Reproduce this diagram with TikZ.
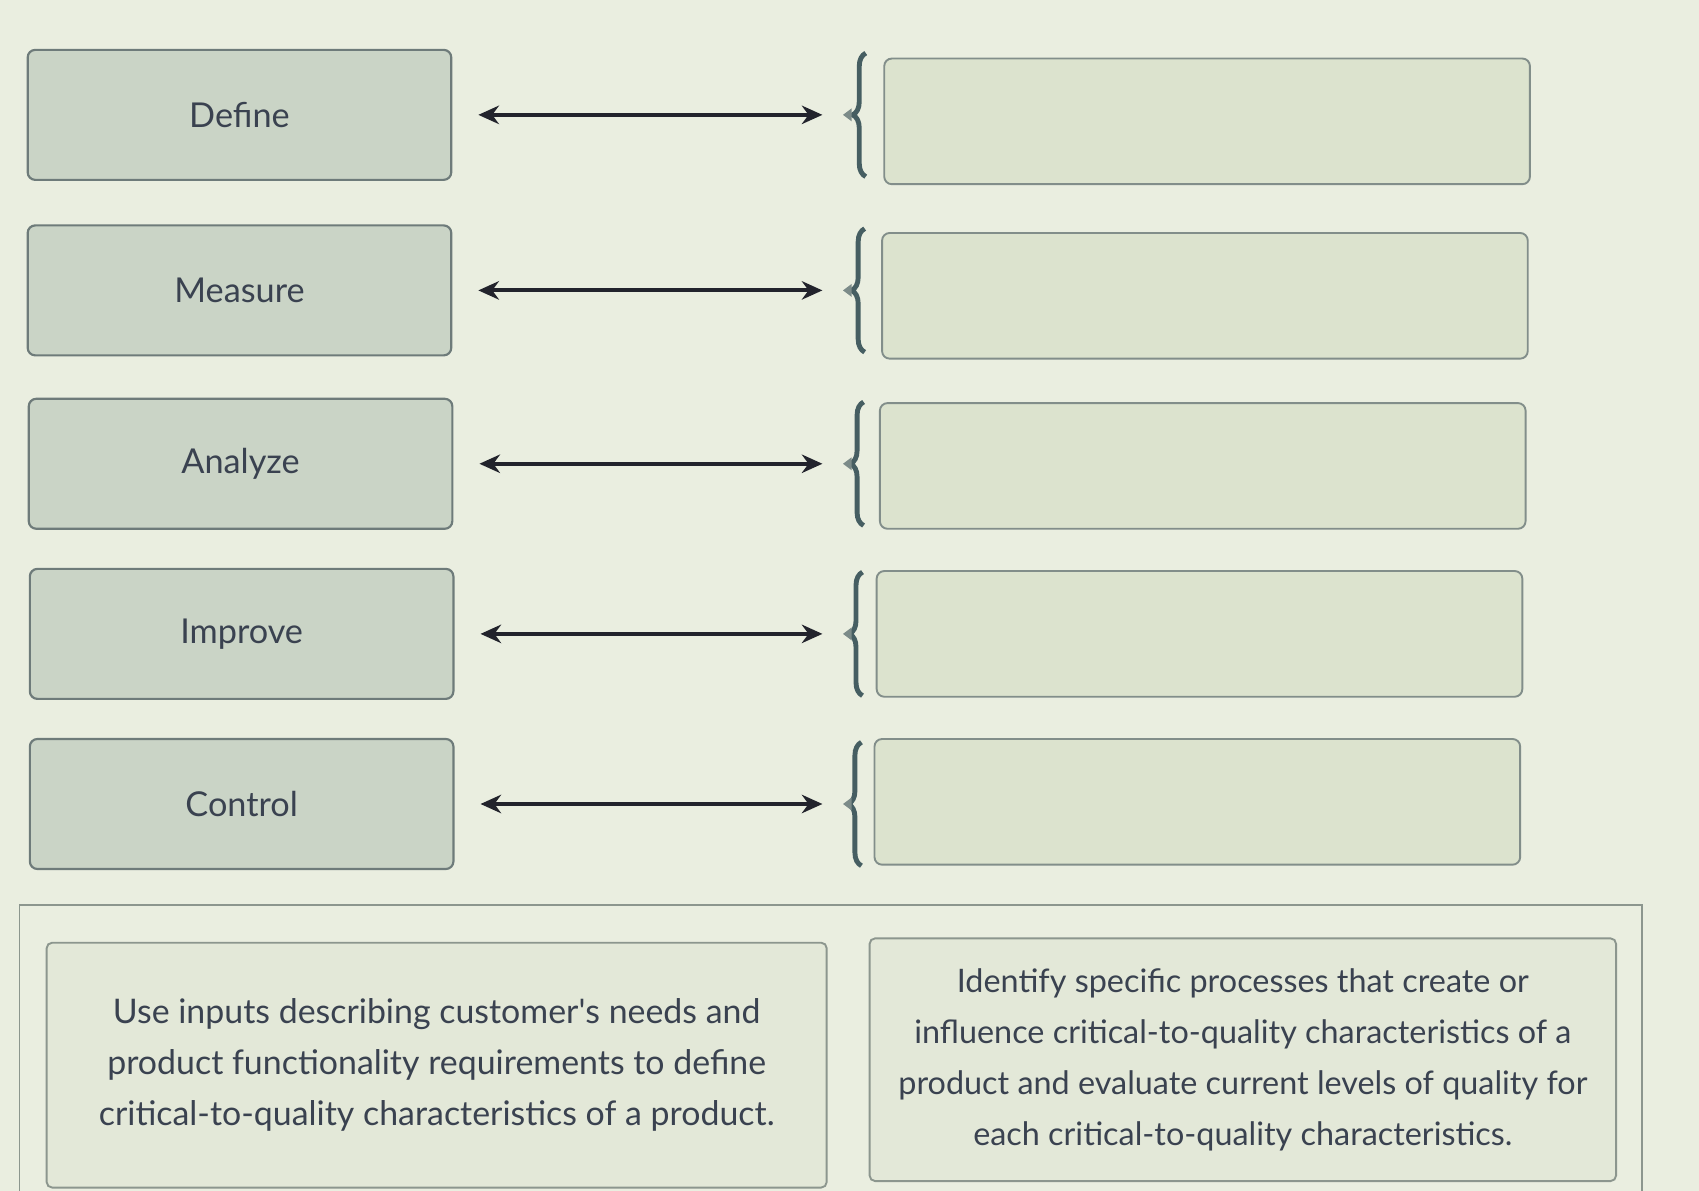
\documentclass[tikz,border=0pt]{standalone}
\usepackage{fontspec}
\setmainfont{Lato}
\usepackage{tikz}
\usetikzlibrary{positioning}
\usetikzlibrary{arrows.meta}
\usetikzlibrary{decorations.pathreplacing}
\usepackage{xcolor}

\definecolor{bgpale}{HTML}{EAEEE0}
\definecolor{stagefill}{HTML}{CAD4C6}
\definecolor{boxline}{HTML}{6E7B7A}
\definecolor{slotfill}{HTML}{DCE3CE}
\definecolor{slotline}{HTML}{828E8A}
\definecolor{labeltext}{HTML}{3A4250}
\definecolor{arrowdark}{HTML}{22232C}
\definecolor{bracecol}{HTML}{465E62}
\definecolor{tipgray}{HTML}{7C8B89}
\definecolor{cardfill}{HTML}{E3E8D8}
\definecolor{cardline}{HTML}{8C968E}

\tikzset{
  stagebox/.style={draw=boxline, fill=stagefill, rounded corners=0.14cm, line width=0.04cm,
    minimum width=7.82cm, minimum height=2.4cm, text=labeltext, font=\fontsize{18}{22}\selectfont},
  slotbox/.style={draw=slotline, fill=slotfill, rounded corners=0.14cm, line width=0.035cm,
    minimum width=11.92cm, minimum height=2.32cm},
  linkarrow/.style={{Stealth[length=0.38cm,width=0.34cm]}-{Stealth[length=0.38cm,width=0.34cm]},
    line width=0.075cm, draw=arrowdark, shorten <=0.48cm, shorten >=0.38cm},
  slotbrace/.style={decorate, decoration={brace, amplitude=0.24cm}, draw=bracecol, line width=0.09cm},
  tipmark/.style={fill=tipgray},
  cardbox/.style={draw=cardline, fill=cardfill, rounded corners=0.1cm, line width=0.035cm,
    text=labeltext, align=center, font=\fontsize{17}{26.7}\selectfont},
  panelline/.style={draw=cardline, line width=0.035cm}
}

\begin{document}
\begin{tikzpicture}[x=0.02cm, y=-0.02cm]
\useasboundingbox (0,0) rectangle (1568,1099);
\clip (0,0) rectangle (1568,1099);
\fill[bgpale] (0,0) rectangle (1568,1099);

% the five stages
\node[stagebox] (define) at (221,106) {Define};
\node[stagebox] (measure) at (221,268) {Measure};
\node[stagebox] (analyze) at (222,428) {Analyze};
\node[stagebox] (improve) at (223,585) {Improve};
\node[stagebox] (control) at (223,742) {Control};

% empty answer slots
\node[slotbox] (slot1) at (1114,112) {};
\node[slotbox] (slot2) at (1112,273) {};
\node[slotbox] (slot3) at (1110,430) {};
\node[slotbox] (slot4) at (1107,585) {};
\node[slotbox] (slot5) at (1105,740) {};

% braces in front of the slots
\coordinate (tip1) at (778,106);
\coordinate (tip2) at (778,268);
\coordinate (tip3) at (778,428);
\coordinate (tip4) at (778,585);
\coordinate (tip5) at (778,742);
\draw[slotbrace] (799,163) -- (799,49);
\draw[slotbrace] (798,325) -- (798,211);
\draw[slotbrace] (797,485) -- (797,371);
\draw[slotbrace] (796,642) -- (796,528);
\draw[slotbrace] (795,799) -- (795,685);
\fill[tipmark] (tip1) -- ++(8,-6) -- ++(0,12) -- cycle;
\fill[tipmark] (tip2) -- ++(8,-6) -- ++(0,12) -- cycle;
\fill[tipmark] (tip3) -- ++(8,-6) -- ++(0,12) -- cycle;
\fill[tipmark] (tip4) -- ++(8,-6) -- ++(0,12) -- cycle;
\fill[tipmark] (tip5) -- ++(8,-6) -- ++(0,12) -- cycle;

% connectors
\draw[linkarrow] (define.east) -- (tip1);
\draw[linkarrow] (measure.east) -- (tip2);
\draw[linkarrow] (analyze.east) -- (tip3);
\draw[linkarrow] (improve.east) -- (tip4);
\draw[linkarrow] (control.east) -- (tip5);

% answer bank
\draw[panelline] (18,835) rectangle (1515,1130);
\node[cardbox, minimum width=14.4cm, minimum height=4.52cm, font=\fontsize{17.8}{26.7}\selectfont] (card1) at (403,983)
  {Use inputs describing customer\textquotesingle s needs and\\product functionality requirements to define\\critical-to-quality characteristics of a product.};
\node[cardbox, minimum width=13.78cm, minimum height=4.48cm] (card2) at (1147,978)
  {Identify specific processes that create or\\influence critical-to-quality characteristics of a\\product and evaluate current levels of quality for\\each critical-to-quality characteristics.};
\end{tikzpicture}
\end{document}
